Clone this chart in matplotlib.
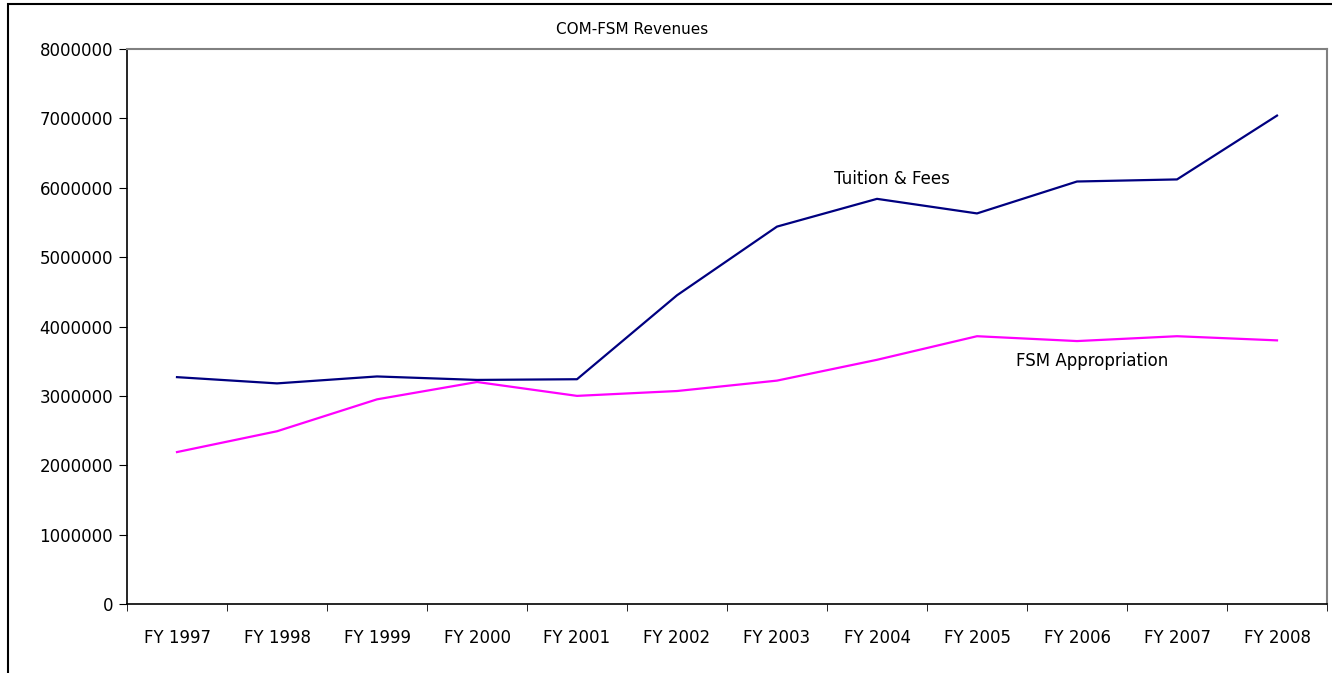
import matplotlib
matplotlib.use("Agg")
import matplotlib.pyplot as plt
from matplotlib.patches import Rectangle
import numpy as np

years = ["FY 1997", "FY 1998", "FY 1999", "FY 2000", "FY 2001", "FY 2002",
         "FY 2003", "FY 2004", "FY 2005", "FY 2006", "FY 2007", "FY 2008"]
tuition = [3270000, 3180000, 3280000, 3230000, 3240000, 4450000,
           5440000, 5840000, 5630000, 6090000, 6120000, 7040000]
appropriation = [2190000, 2490000, 2950000, 3200000, 3000000, 3070000,
                 3220000, 3520000, 3860000, 3790000, 3860000, 3800000]
yticks = [0, 1000000, 2000000, 3000000, 4000000, 5000000, 6000000, 7000000, 8000000]

plt.rcParams['font.family'] = ['DejaVu Sans']

fig = plt.figure(figsize=(13.32, 6.73), dpi=100)
W, H = 1332, 673
ax = fig.add_axes([127 / W, 1 - 604 / H, 1200 / W, 555 / H])

# outer chart frame (only left/top visible in the reference)
fig.patches.append(Rectangle((7.5 / W, -0.1), 1.2, 1 - 4.5 / H + 0.1,
                             transform=fig.transFigure, fill=False,
                             edgecolor='black', lw=1.5))

x = np.arange(len(years))
ax.plot(x, tuition, color='#000080', lw=1.6)
ax.plot(x, appropriation, color='#FF00FF', lw=1.6)

ax.set_xlim(-0.5, len(years) - 0.5)
ax.set_ylim(0, 8000000)
ax.set_yticks(yticks)
ax.set_yticklabels([str(v) for v in yticks], fontsize=12)
ax.set_xticks(x)
ax.set_xticklabels(years, fontsize=12)
ax.set_xticks(np.arange(-0.5, len(years)), minor=True)
ax.tick_params(axis='x', which='major', length=0, pad=18)
ax.tick_params(axis='x', which='minor', length=5, direction='out', color='black')
ax.tick_params(axis='y', length=6, direction='out', pad=4)

for s in ['top', 'right']:
    ax.spines[s].set_color('#808080')
    ax.spines[s].set_linewidth(1.5)
for s in ['left', 'bottom']:
    ax.spines[s].set_color('black')
    ax.spines[s].set_linewidth(1.2)

fig.text(632 / W, 1 - 30 / H, "COM-FSM Revenues", ha='center', va='center', fontsize=11)
ax.text(7.15, 6130000, "Tuition & Fees", ha='center', va='center', fontsize=12)
ax.text(9.15, 3500000, "FSM Appropriation", ha='center', va='center', fontsize=12)

fig.savefig("out.png", dpi=100)
